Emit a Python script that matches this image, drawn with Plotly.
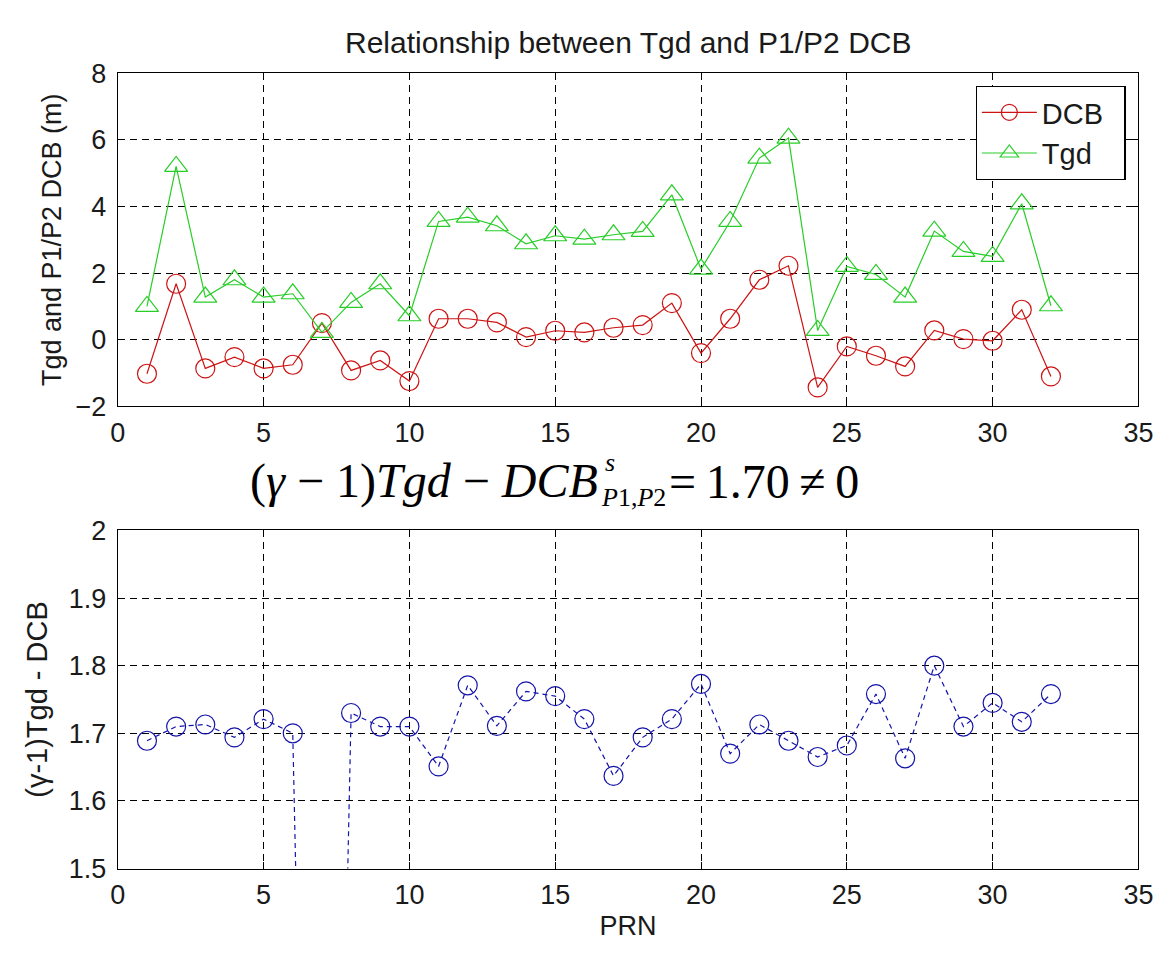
import plotly.graph_objects as go

# Satellite PRN numbers
prn = list(range(1, 33))

# P1/P2 differential code bias per satellite (m)
dcb = [-1.02, 1.68, -0.86, -0.52, -0.86, -0.75, 0.50, -0.92, -0.62, -1.24,
       0.63, 0.63, 0.52, 0.08, 0.27, 0.22, 0.36, 0.44, 1.10, -0.40,
       0.63, 1.80, 2.22, -1.43, -0.20, -0.48, -0.80, 0.28, 0.02, -0.03,
       0.90, -1.10]

# Broadcast group delay Tgd per satellite (m)
tgd = [1.00, 5.20, 1.28, 1.80, 1.28, 1.38, 0.22, 1.12, 1.68, 0.72,
       3.55, 3.68, 3.42, 2.88, 3.12, 3.02, 3.15, 3.25, 4.35, 2.12,
       3.55, 5.45, 6.05, 0.28, 2.20, 1.96, 1.28, 3.26, 2.65, 2.50,
       4.08, 1.02]

# (gamma-1)Tgd - DCB per satellite
diff = [1.689, 1.710, 1.713, 1.694, 1.721, 1.700, -0.30, 1.730, 1.710, 1.710,
        1.651, 1.771, 1.711, 1.762, 1.755, 1.721, 1.637, 1.694, 1.721, 1.773,
        1.670, 1.713, 1.689, 1.665, 1.682, 1.758, 1.663, 1.800, 1.710, 1.745,
        1.717, 1.758]

# Axis ticks
x_ticks = [0, 5, 10, 15, 20, 25, 30, 35]
top_y_ticks = [-2, 0, 2, 4, 6, 8]
bot_y_ticks = [1.5, 1.6, 1.7, 1.8, 1.9, 2.0]
bot_y_text = ["1.5", "1.6", "1.7", "1.8", "1.9", "2"]

W, H = 1174, 963
SANS = "Liberation Sans, Arial, sans-serif"
SERIF = "Liberation Serif, Times New Roman, serif"
INK = "#1a1a1a"

def px_x(p):
    return p / W

def px_y(p):
    return 1 - p / H

RED = "rgb(205,20,20)"
GREEN = "rgb(40,205,40)"
BLUE = "rgb(20,20,170)"

fig = go.Figure()

fig.add_trace(go.Scatter(
    x=prn, y=dcb, name="DCB\u00a0\u00a0", mode="lines+markers",
    line=dict(color=RED, width=1.2),
    marker=dict(symbol="circle-open", size=19, color=RED, line=dict(width=1.2)),
    xaxis="x", yaxis="y",
))
fig.add_trace(go.Scatter(
    x=prn, y=tgd, name="Tgd", mode="lines+markers",
    line=dict(color=GREEN, width=1.2),
    marker=dict(symbol="triangle-up-open", size=20, color=GREEN, line=dict(width=1.2)),
    xaxis="x", yaxis="y",
))
fig.add_trace(go.Scatter(
    x=prn, y=diff, name="diff", mode="lines+markers", showlegend=False,
    line=dict(color=BLUE, width=1.2, dash="5px,4px"),
    marker=dict(symbol="circle-open", size=19, color=BLUE, line=dict(width=1.2)),
    xaxis="x2", yaxis="y2",
))

axis_common = dict(
    showline=True, linecolor="black", linewidth=1.3, mirror="ticks",
    ticks="inside", ticklen=6, tickcolor="black", tickwidth=1,
    showgrid=True, gridcolor="black", gridwidth=1.3, griddash="7px,5px",
    zeroline=False,
    tickfont=dict(family=SANS, size=27, color=INK),
)

top_dom = [px_y(404), px_y(60)]
bot_dom = [px_y(881), px_y(532)]
x_dom = [px_x(112), px_x(1153)]

fig.update_layout(
    width=W, height=H,
    margin=dict(l=0, r=0, t=0, b=0),
    paper_bgcolor="white", plot_bgcolor="white",
    showlegend=True,
    xaxis=dict(axis_common, domain=x_dom, range=[0, 35], tickvals=x_ticks,
               anchor="y", ticklabelstandoff=2),
    yaxis=dict(axis_common, domain=top_dom, range=[-2, 8], tickvals=top_y_ticks,
               anchor="x", ticklabelstandoff=5,
               title=dict(text="Tgd and P1/P2 DCB (m)",
                          font=dict(family=SANS, size=27, color=INK),
                          standoff=6)),
    xaxis2=dict(axis_common, domain=x_dom, range=[0, 35], tickvals=x_ticks,
                anchor="y2", ticklabelstandoff=2,
                title=dict(text="PRN", font=dict(family=SANS, size=27, color=INK),
                           standoff=6)),
    yaxis2=dict(axis_common, domain=bot_dom, range=[1.5, 2.0], tickvals=bot_y_ticks,
                ticktext=bot_y_text, anchor="x2", ticklabelstandoff=5,
                title=dict(text="(γ-1)Tgd - DCB",
                           font=dict(family=SANS, size=29, color=INK),
                           standoff=12)),
    legend=dict(
        x=px_x(1140), y=px_y(73), xanchor="right", yanchor="top",
        bgcolor="white", bordercolor="black", borderwidth=1.2,
        font=dict(family=SANS, size=29, color=INK),
        itemwidth=55, tracegroupgap=0,
    ),
)

# Figure title
fig.add_annotation(
    x=px_x(632), y=px_y(28), xref="paper", yref="paper",
    text="Relationship between Tgd and P1/P2 DCB", showarrow=False,
    xanchor="center", yanchor="middle",
    font=dict(family=SANS, size=30, color=INK),
)

# Equation between the panels
EQ_Y = 481
eq_font = dict(family=SERIF, size=48, color="black")
small_font = dict(family=SERIF, size=26, color="black")
fig.add_annotation(
    x=px_x(604), y=px_y(EQ_Y), xref="paper", yref="paper",
    text="(<i>γ</i> − 1)<i>Tgd</i> − <i>DCB</i>", showarrow=False,
    xanchor="right", yanchor="middle", font=eq_font,
)
fig.add_annotation(
    x=px_x(607), y=px_y(EQ_Y - 19), xref="paper", yref="paper",
    text="<i>s</i>", showarrow=False,
    xanchor="left", yanchor="middle", font=small_font,
)
fig.add_annotation(
    x=px_x(603), y=px_y(EQ_Y + 17), xref="paper", yref="paper",
    text="<i>P</i>1,<i>P</i>2", showarrow=False,
    xanchor="left", yanchor="middle", font=small_font,
)
fig.add_annotation(
    x=px_x(672), y=px_y(EQ_Y), xref="paper", yref="paper",
    text="=\u20091.70\u2009≠\u20090", showarrow=False,
    xanchor="left", yanchor="middle", font=eq_font,
)

fig.write_html("out.html", post_script="document.body.style.margin='0';")
